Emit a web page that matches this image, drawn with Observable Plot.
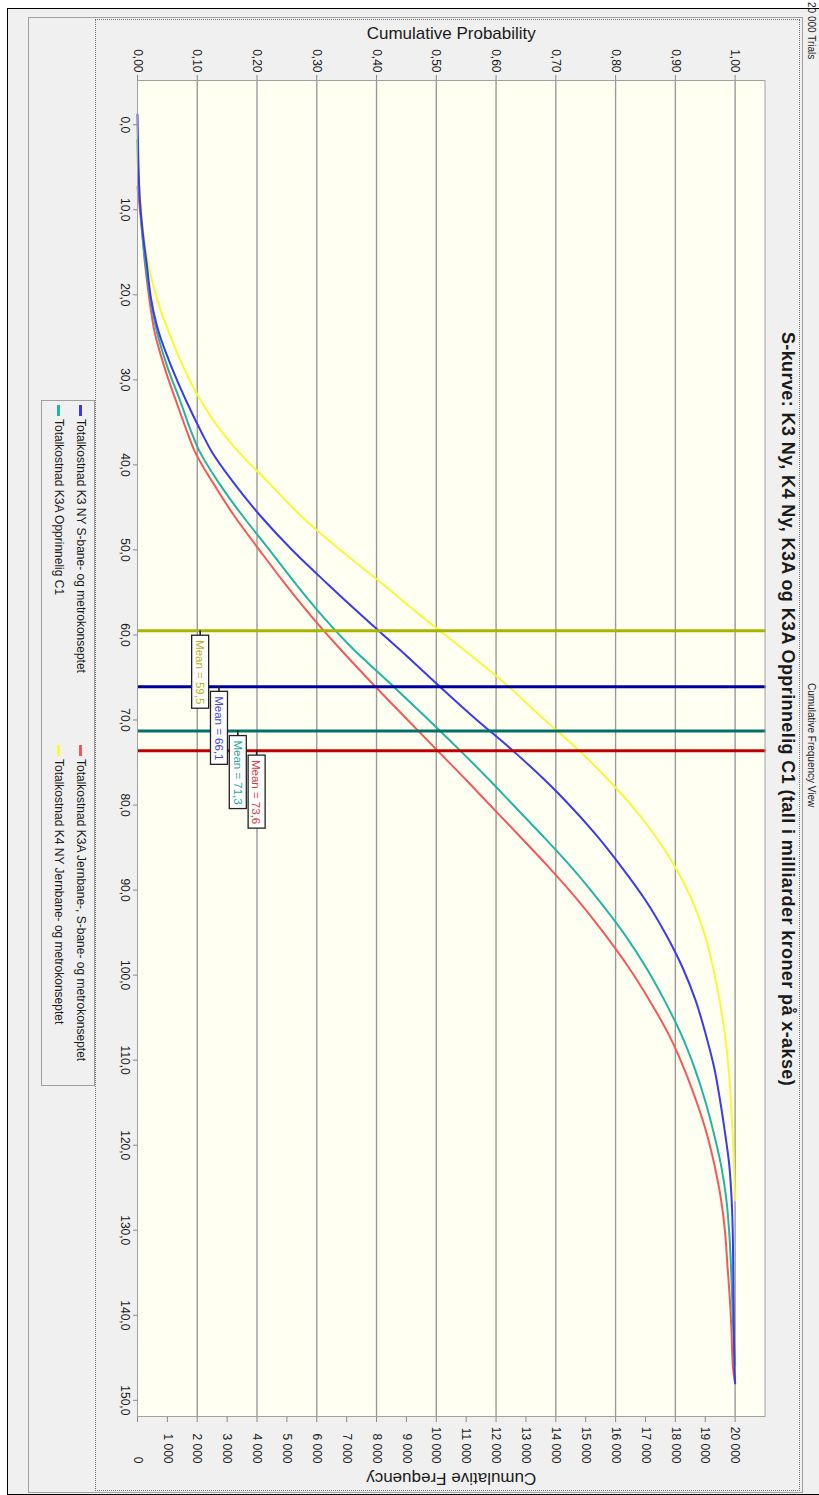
<!DOCTYPE html>
<html>
<head>
<meta charset="utf-8">
<script src="https://cdn.jsdelivr.net/npm/d3@7"></script>
<script src="https://cdn.jsdelivr.net/npm/@observablehq/plot@0.6"></script>
<style>
html, body { margin:0; padding:0; background:#fff; width:819px; height:1495px; overflow:hidden; }
#chart { position:absolute; left:0; top:0; width:1495px; height:819px; transform-origin:0 0;
  transform: translate(819px,0) rotate(90deg); font-family:"Liberation Sans", Arial, sans-serif; color:#1a1a1a; }
#chart .abs { position:absolute; box-sizing:border-box; }
#outer { left:8px; top:-20px; width:1487px; height:832px; border:1px solid #000; background:#f0f0f0; }
#panel { left:17px; top:16px; width:1476px; height:775px; border:1px solid #a0a0a0; }
#dotted { left:19px; top:19px; width:1472px; height:705px; border:1px dotted #707070; }
#title { left:709px; top:21px; transform:translateX(-50%); white-space:nowrap; font-weight:bold; font-size:18px; letter-spacing:0.4px; line-height:20px; }
.hdr { top:2px; font-size:10px; line-height:11px; white-space:nowrap; }
#legend { left:400px; top:724px; width:686px; height:54px; border:1px solid #a0a0a0; }
.sw { position:absolute; width:11px; height:3px; }
.lt { position:absolute; font-size:12px; line-height:14px; white-space:nowrap; }
#plot { left:0; top:0; }
</style>
</head>
<body>
<div id="chart">
  <div class="abs" id="outer"></div>
  <div class="abs" id="panel"></div>
  <div class="abs" id="dotted"></div>
  <div class="abs hdr" id="trials"></div>
  <div class="abs hdr" id="view"></div>
  <div class="abs" id="title"></div>
  <div class="abs" id="legend"></div>
  <div class="abs" id="plot"></div>
</div>
<script>
// ---------- data ----------
const titleText = "S-kurve: K3 Ny, K4 Ny, K3A og K3A Opprinnelig C1 (tall i milliarder kroner på x-akse)";
const trialsText = "20 000 Trials";
const viewText = "Cumulative Frequency View";
const trials = 20000;

const seriesNames = [
  "Totalkostnad K3 NY S-bane- og metrokonseptet",
  "Totalkostnad K3A Jernbane-, S-bane- og metrokonseptet",
  "Totalkostnad K3A Opprinnelig C1",
  "Totalkostnad K4 NY Jernbane- og metrokonseptet"
];
const seriesColors = ["#3a3af2", "#f55858", "#22b5a6", "#f8f83a"];

const k3nyCost = [-1.2, 3, 8.9, 12.8, 16.7, 20.6, 24.5, 28.5, 32.4, 36.3, 38.3, 42.2, 46.1, 50.1, 54.0, 57.9, 61.8, 65.7, 69.7, 73.6, 77.5, 79.5, 83.4, 87.3, 91.2, 95.2, 99.1, 103.0, 107.0, 110.9, 114.8, 118.5, 122.2, 126.2, 130.1, 135.9, 141.9, 146.5, 148.0];
const k3nyProb = [0, 0.001, 0.004, 0.009, 0.016, 0.023, 0.036, 0.057, 0.081, 0.108, 0.123, 0.162, 0.207, 0.26, 0.318, 0.378, 0.44, 0.5, 0.563, 0.628, 0.688, 0.716, 0.766, 0.81, 0.85, 0.884, 0.912, 0.934, 0.951, 0.965, 0.975, 0.983, 0.99, 0.994, 0.996, 0.997, 0.998, 0.999, 1.0];

const k3aJernCost = [7.3, 10, 12.8, 16.7, 20.6, 24.5, 28.5, 32.4, 36.3, 38.3, 42.2, 46.1, 50.1, 54.0, 57.9, 61.8, 65.7, 69.7, 73.6, 77.5, 79.5, 83.4, 87.3, 91.2, 95.2, 99.1, 103.0, 107.0, 110.9, 114.8, 118.5, 122.2, 126.2, 130.1, 134.0, 137.9, 141.9, 145.8, 148.0];
const k3aJernProb = [0, 0.004, 0.008, 0.013, 0.02, 0.029, 0.045, 0.064, 0.084, 0.095, 0.127, 0.163, 0.205, 0.247, 0.292, 0.341, 0.393, 0.448, 0.502, 0.556, 0.583, 0.636, 0.688, 0.737, 0.782, 0.822, 0.857, 0.889, 0.914, 0.935, 0.952, 0.965, 0.976, 0.983, 0.987, 0.991, 0.994, 0.996, 1.0];

const k3aC1Cost = [1.8, 5, 8.9, 12.8, 16.7, 20.6, 24.5, 28.5, 32.4, 36.3, 38.3, 42.2, 46.1, 50.1, 54.0, 57.9, 61.8, 65.7, 69.7, 73.6, 77.5, 79.5, 83.4, 87.3, 91.2, 95.2, 99.1, 103.0, 107.0, 110.9, 114.8, 118.5, 122.2, 126.2, 130.1, 134.0, 137.9, 141.9, 145.8];
const k3aC1Prob = [0, 0.001, 0.004, 0.008, 0.014, 0.022, 0.033, 0.05, 0.071, 0.091, 0.103, 0.137, 0.177, 0.222, 0.265, 0.311, 0.363, 0.423, 0.483, 0.54, 0.595, 0.622, 0.675, 0.726, 0.772, 0.815, 0.851, 0.882, 0.91, 0.932, 0.95, 0.964, 0.976, 0.985, 0.99, 0.993, 0.995, 0.997, 1.0];

const k4nyCost = [4, 8, 12.8, 16.7, 20.6, 24.5, 28.5, 31.6, 36.3, 38.3, 42.2, 46.1, 50.1, 54.0, 57.9, 61.8, 65.7, 69.7, 73.6, 77.5, 79.5, 83.4, 87.3, 91.2, 95.2, 99.1, 103.0, 107.0, 110.9, 114.8, 118.7, 122.2, 126.5];
const k4nyProb = [0, 0.004, 0.01, 0.019, 0.033, 0.053, 0.077, 0.099, 0.143, 0.167, 0.221, 0.275, 0.341, 0.41, 0.477, 0.547, 0.615, 0.677, 0.739, 0.794, 0.82, 0.864, 0.9, 0.928, 0.949, 0.963, 0.974, 0.983, 0.989, 0.993, 0.996, 0.998, 1.0];

const meanValues = [59.5, 66.1, 71.3, 73.6];
const meanLineColors = ["#a9b400", "#0000a0", "#007068", "#c00000"];
const meanTextColors = ["#b4b418", "#4646ee", "#2aa59a", "#d83c3c"];

const costTicks = [0, 10, 20, 30, 40, 50, 60, 70, 80, 90, 100, 110, 120, 130, 140, 150];
const probTicks = [0, 0.1, 0.2, 0.3, 0.4, 0.5, 0.6, 0.7, 0.8, 0.9, 1.0];
const freqTicks = [0, 1000, 2000, 3000, 4000, 5000, 6000, 7000, 8000, 9000, 10000, 11000, 12000, 13000, 14000, 15000, 16000, 17000, 18000, 19000, 20000];

// ---------- build ----------
const series = [
  {name: seriesNames[0], color: seriesColors[0], cost: k3nyCost, prob: k3nyProb},
  {name: seriesNames[1], color: seriesColors[1], cost: k3aJernCost, prob: k3aJernProb},
  {name: seriesNames[2], color: seriesColors[2], cost: k3aC1Cost, prob: k3aC1Prob},
  {name: seriesNames[3], color: seriesColors[3], cost: k4nyCost, prob: k4nyProb}
];
const rowsOf = s => s.cost.map((c, i) => ({cost: c, p: s.prob[i]}));
const means = meanValues.map((v, i) => ({value: v, line: meanLineColors[i], text: meanTextColors[i], i}));
const comma = (d, n) => d.toFixed(n).replace(".", ",");
const fmtFreq = n => n === 0 ? "0" : (Math.floor(n / 1000) + " " + String(n % 1000).padStart(3, "0"));
const labelP = i => 0.104 + 0.0315 * i;
const drawOrder = [1, 2, 3, 0];

const plot = Plot.plot({
  width: 1495, height: 819,
  marginTop: 53.5, marginBottom: 138, marginLeft: 80, marginRight: 79,
  style: {background: "transparent", fontFamily: "'Liberation Sans', Arial, sans-serif", fontSize: "12px", color: "#1a1a1a", overflow: "visible"},
  x: {domain: [-5.2, 151.9]},
  y: {domain: [0, 1.05]},
  color: {type: "identity"},
  marks: [
    Plot.frame({fill: "#fffff2"}),
    Plot.ruleY(probTicks.slice(1), {stroke: "#9a9a9a", strokeWidth: 1.4}),
    ...drawOrder.map(k => Plot.line(rowsOf(series[k]), {x: "cost", y: "p", stroke: series[k].color, strokeWidth: 2, curve: "monotone-x"})),
    Plot.ruleX(means, {x: "value", stroke: "line", strokeWidth: 3}),
    Plot.rect(means, {x1: "value", x2: "value", y1: d => labelP(d.i), y2: d => labelP(d.i), insetLeft: 0, insetRight: -5, insetTop: -0.8, insetBottom: -0.8, fill: "#222"}),
    Plot.rect(means, {x1: "value", x2: "value", y1: d => labelP(d.i), y2: d => labelP(d.i), insetLeft: 5, insetRight: -78, insetTop: -8.5, insetBottom: -8.5, fill: "white", stroke: "#222", strokeWidth: 1.3}),
    Plot.text(means, {x: "value", y: d => labelP(d.i), dx: 41.5, text: d => "Mean = " + comma(d.value, 1), fill: "text", fontSize: 11.5}),
    Plot.axisX({ticks: costTicks, tickSize: 5, tickPadding: 3, tickFormat: d => comma(d, 1), label: null, stroke: "#888", fontSize: 12}),
    Plot.axisY({anchor: "left", ticks: probTicks, tickSize: 5, tickPadding: 3, tickFormat: d => comma(d, 2), label: null, stroke: "#888", fontSize: 12}),
    Plot.axisY({anchor: "right", ticks: freqTicks.map(f => f / trials), tickSize: 5, tickFormat: () => "", label: null, stroke: "#888"}),
    Plot.text(freqTicks, {y: d => d / trials, frameAnchor: "right", dx: 47, textAnchor: "end", text: d => fmtFreq(d), fontSize: 12}),
    Plot.text(["Cumulative Probability"], {frameAnchor: "left", dx: -47, rotate: -90, textAnchor: "middle", text: d => d, fontSize: 17}),
    Plot.text(["Cumulative Frequency"], {frameAnchor: "right", dx: 62, rotate: 90, textAnchor: "middle", text: d => d, fontSize: 17}),
    Plot.frame({stroke: "#a0a0a0"})
  ]
});
document.getElementById("plot").appendChild(plot);

document.getElementById("title").textContent = titleText;
const tr = document.getElementById("trials"); tr.textContent = trialsText; tr.style.left = "2px";
const vw = document.getElementById("view"); vw.textContent = viewText; vw.style.left = "683px";

// legend
const legend = document.getElementById("legend");
const legendSlots = [[0, 0], [1, 0], [2, 1], [3, 1]]; // [series index, row]
legendSlots.forEach(([k, row]) => {
  const col = (k === 0 || k === 2) ? 0 : 1;
  const left = col === 0 ? 4 : 344;
  const cy = row === 0 ? 13 : 35;
  const sw = document.createElement("div");
  sw.className = "sw"; sw.style.background = series[k].color;
  sw.style.left = left + "px"; sw.style.top = (cy - 1.5) + "px";
  legend.appendChild(sw);
  const t = document.createElement("div");
  t.className = "lt"; t.textContent = series[k].name;
  t.style.left = (left + 14) + "px"; t.style.top = (cy - 7) + "px";
  legend.appendChild(t);
});
</script>
</body>
</html>
